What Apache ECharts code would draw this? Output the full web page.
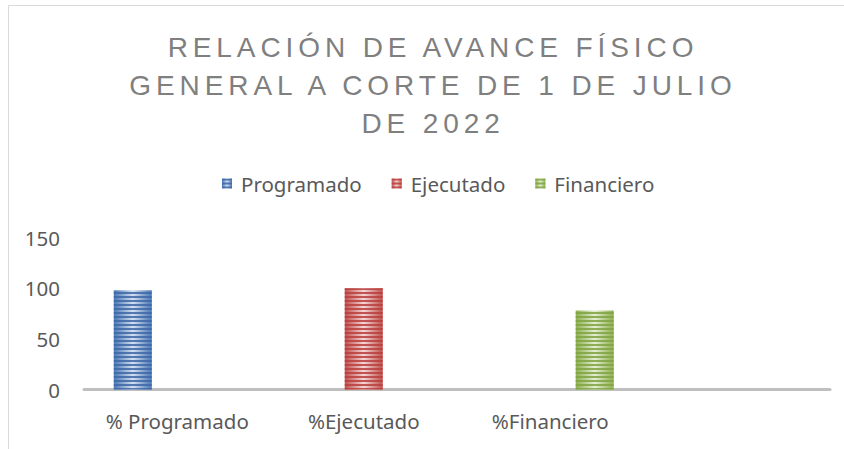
<!DOCTYPE html>
<html>
<head>
<meta charset="utf-8">
<script src="https://cdn.jsdelivr.net/npm/echarts@6/dist/echarts.min.js"></script>
<style>
  html, body { margin: 0; padding: 0; background: #fff; }
  #chart { width: 844px; height: 449px; }
</style>
</head>
<body>
<div id="chart"></div>
<script>
// categorias (la cuarta va vacia, asi sale en el original)
var categorias = ['% Programado', '%Ejecutado', '%Financiero', ''];
var programado = [98, '-', '-', '-'];
var ejecutado = ['-', 100, '-', '-'];
var financiero = ['-', '-', 78, '-'];
var ticksY = [0, 50, 100, 150];
var tituloLineas = ['RELACIÓN DE AVANCE FÍSICO', 'GENERAL A CORTE DE 1 DE JULIO', 'DE 2022'];

var myChart = echarts.init(document.getElementById('chart'), null, { renderer: 'svg' });

// relleno rayado: degradado horizontal + lineas con decal
function rayado(borde, centro, linea) {
    return {
        color: new echarts.graphic.LinearGradient(0, 0, 1, 0, [
            { offset: 0, color: borde },
            { offset: 0.5, color: centro },
            { offset: 1, color: borde }
        ]),
        decal: {
            symbol: 'rect',
            symbolSize: 1,
            dashArrayX: [1, 0],
            dashArrayY: [2, 1.6],
            rotation: 0,
            color: linea
        }
    };
}

var fuente = 'Noto Sans';

var option = {
    aria: { enabled: true, decal: { show: true } },
    animation: false,
    title: {
        text: tituloLineas.join('\n'),
        left: 'center',
        top: 23,
        textStyle: {
            fontFamily: 'Liberation Sans',
            fontSize: 28,
            fontWeight: 'normal',
            color: '#7f7f7f',
            lineHeight: 38
        }
    },
    legend: {
        top: 168,
        left: 217,
        itemWidth: 10,
        itemHeight: 10,
        itemGap: 30,
        icon: 'rect',
        textStyle: {
            fontFamily: fuente,
            fontSize: 20.5,
            color: '#595959',
            padding: [0, 0, 0, 4]
        },
        data: ['Programado', 'Ejecutado', 'Financiero']
    },
    graphic: [{
        type: 'rect',
        shape: { x: 8.5, y: 5.5, width: 900, height: 500 },
        style: { fill: 'none', stroke: '#d9d9d9', lineWidth: 1 },
        silent: true
    }],
    grid: { left: 84, right: 14, top: 237.5, bottom: 59.5 },
    xAxis: {
        type: 'category',
        data: categorias,
        axisTick: { show: false },
        axisLine: { lineStyle: { color: '#bfbfbf', width: 3 } },
        axisLabel: {
            margin: 21,
            fontFamily: fuente,
            fontSize: 20.5,
            color: '#595959'
        }
    },
    yAxis: {
        type: 'value',
        min: ticksY[0],
        max: ticksY[ticksY.length - 1],
        interval: 50,
        splitLine: { show: false },
        axisLine: { show: false },
        axisTick: { show: false },
        axisLabel: {
            margin: 24,
            fontFamily: fuente,
            fontSize: 20.5,
            color: '#595959',
            padding: [2, 0, 0, 0]
        }
    },
    series: [
        {
            name: 'Programado',
            type: 'bar',
            data: programado,
            barWidth: 38,
            barGap: '17%',
            barCategoryGap: '32%',
            itemStyle: rayado('#4a78b5', '#d4e0f0', 'rgba(62,104,168,0.85)')
        },
        {
            name: 'Ejecutado',
            type: 'bar',
            data: ejecutado,
            barWidth: 38,
            barGap: '17%',
            itemStyle: rayado('#c0504d', '#f4d6d5', 'rgba(185,64,62,0.85)')
        },
        {
            name: 'Financiero',
            type: 'bar',
            data: financiero,
            barWidth: 38,
            barGap: '17%',
            itemStyle: rayado('#8db04f', '#e4eed3', 'rgba(128,163,66,0.85)')
        }
    ]
};

myChart.setOption(option);

// espaciado de letras del titulo (echarts no lo tiene), se aplica sobre el svg
// dx: mitad del espaciado + el centro del grafico original cae en x~432
var textos = document.querySelectorAll('#chart svg text');
for (var i = 0; i < textos.length; i++) {
    if (tituloLineas.indexOf(textos[i].textContent) >= 0) {
        textos[i].style.letterSpacing = '4.9px';
        textos[i].setAttribute('dx', '11');
    }
}
</script>
</body>
</html>
